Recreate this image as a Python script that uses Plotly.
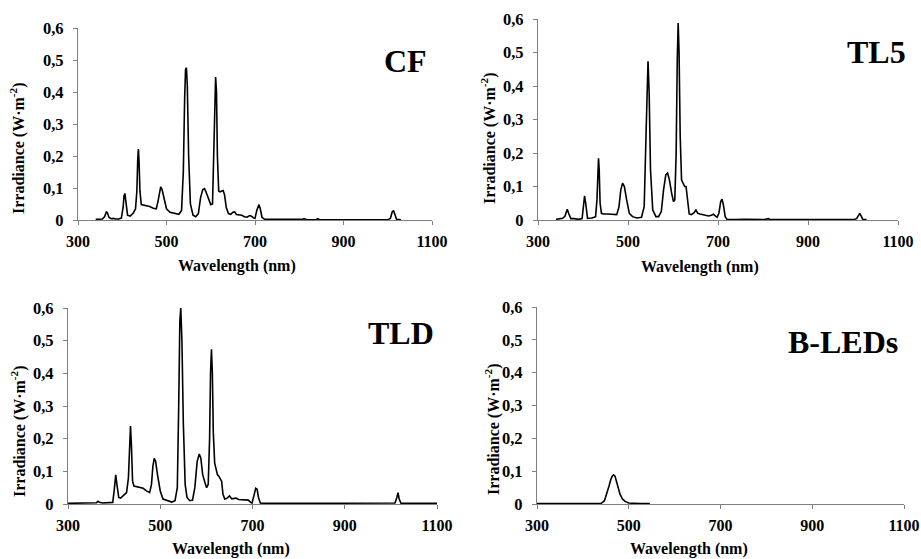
import plotly.graph_objects as go

# ---------------- data ----------------
cf_wl = [340, 355, 360, 364, 366, 370, 375, 380, 385, 392, 398, 402, 404, 406, 408, 412, 418, 425, 430, 433,
         435, 436.5, 438, 440, 443, 447, 455, 462, 470, 477, 481, 484, 487, 490, 494, 500, 508, 518, 528, 534,
         538, 541, 543, 545, 547, 550, 554, 560, 566, 572, 577, 582, 586, 590, 595, 600, 604, 607, 609, 611,
         613, 615, 618, 621, 624, 628, 631, 635, 640, 645, 650, 654, 658, 664, 670, 676, 682, 688, 692, 697,
         700, 704, 707, 709, 712, 716, 722, 740, 760, 800, 808, 811, 814, 820, 838, 842, 846, 850, 900, 910,
         915, 1000, 1006, 1010, 1013, 1016, 1020, 1030]
cf_irr = [0.002, 0.003, 0.010, 0.025, 0.024, 0.008, 0.004, 0.005, 0.003, 0.003, 0.006, 0.040, 0.075, 0.083, 0.060, 0.015, 0.012, 0.022, 0.035, 0.090,
          0.190, 0.222, 0.180, 0.090, 0.048, 0.047, 0.046, 0.042, 0.037, 0.035, 0.060, 0.090, 0.104, 0.095, 0.070, 0.035, 0.024, 0.022, 0.018, 0.030,
          0.150, 0.380, 0.470, 0.476, 0.420, 0.200, 0.050, 0.015, 0.010, 0.020, 0.070, 0.095, 0.098, 0.085, 0.065, 0.048, 0.050, 0.200, 0.380, 0.447,
          0.400, 0.200, 0.090, 0.088, 0.090, 0.092, 0.080, 0.040, 0.020, 0.018, 0.024, 0.025, 0.017, 0.016, 0.015, 0.010, 0.009, 0.014, 0.012, 0.006,
          0.005, 0.030, 0.046, 0.048, 0.035, 0.008, 0.002, 0.002, 0.001, 0.001, 0.002, 0.004, 0.002, 0.001, 0.001, 0.004, 0.001, 0.001, 0.001, 0.002,
          0.001, 0.001, 0.005, 0.025, 0.030, 0.020, 0.002, 0.001]

tl5_wl = [340, 355, 360, 363, 365, 368, 373, 380, 390, 398, 401, 403.5, 406, 410, 420, 428, 431, 433, 434.5, 436,
          438, 441, 445, 455, 465, 475, 480, 484, 488, 492, 497, 503, 510, 520, 530, 536, 540, 542.5, 544.5, 547,
          550, 555, 562, 568, 574, 579, 584, 588, 592, 597, 601, 604, 607, 609.5, 611.5, 613.5, 616, 619, 622, 626,
          629, 632, 636, 641, 647, 651, 655, 660, 668, 679, 685, 690, 694, 698, 702, 706, 709, 712, 716, 720,
          740, 760, 800, 808, 812, 816, 830, 1000, 1008, 1012, 1015, 1018, 1022, 1030]
tl5_irr = [0.002, 0.005, 0.012, 0.028, 0.032, 0.020, 0.004, 0.004, 0.002, 0.004, 0.040, 0.072, 0.050, 0.005, 0.006, 0.010, 0.060, 0.150, 0.184, 0.150,
           0.050, 0.020, 0.018, 0.018, 0.016, 0.016, 0.040, 0.090, 0.110, 0.100, 0.060, 0.020, 0.010, 0.006, 0.008, 0.040, 0.250, 0.440, 0.474, 0.380,
           0.150, 0.030, 0.010, 0.010, 0.025, 0.090, 0.135, 0.140, 0.120, 0.080, 0.055, 0.060, 0.200, 0.480, 0.588, 0.500, 0.250, 0.120, 0.110, 0.100,
           0.100, 0.060, 0.018, 0.016, 0.022, 0.030, 0.020, 0.018, 0.016, 0.012, 0.014, 0.017, 0.012, 0.008, 0.020, 0.055, 0.062, 0.045, 0.010, 0.002,
           0.001, 0.002, 0.001, 0.003, 0.004, 0.001, 0.001, 0.001, 0.004, 0.015, 0.020, 0.012, 0.001, 0.001]

tld_wl = [300, 350, 362, 365, 368, 375, 390, 397, 400, 403.5, 406, 410, 414, 420, 427, 431, 433.5, 435.5, 437.5, 440,
          443, 450, 463, 470, 477, 481, 484, 487, 490, 494, 500, 506, 515, 525, 532, 537, 540, 542.5, 544.5, 547,
          550, 554, 558, 564, 570, 575, 580, 584.5, 588, 592, 597, 600.5, 604, 607, 609, 611, 613, 615, 618, 621,
          624, 627, 633, 636, 640, 645, 650, 655, 659, 664, 670, 680, 691, 696, 699, 703, 707, 710, 713, 717,
          725, 780, 800, 808, 812, 820, 900, 1000, 1009, 1013, 1015.5, 1018, 1022, 1030, 1100]
tld_irr = [0.002, 0.002, 0.004, 0.008, 0.005, 0.003, 0.003, 0.005, 0.040, 0.089, 0.060, 0.020, 0.018, 0.025, 0.035, 0.080, 0.200, 0.239, 0.180, 0.070,
           0.055, 0.052, 0.048, 0.040, 0.035, 0.060, 0.115, 0.140, 0.130, 0.090, 0.040, 0.015, 0.010, 0.006, 0.010, 0.050, 0.300, 0.560, 0.600, 0.500,
           0.250, 0.060, 0.020, 0.010, 0.012, 0.050, 0.130, 0.153, 0.140, 0.090, 0.065, 0.050, 0.060, 0.200, 0.400, 0.474, 0.400, 0.220, 0.125, 0.110,
           0.090, 0.085, 0.070, 0.030, 0.015, 0.018, 0.025, 0.016, 0.016, 0.018, 0.014, 0.012, 0.012, 0.005, 0.003, 0.025, 0.048, 0.045, 0.020, 0.003,
           0.002, 0.002, 0.002, 0.003, 0.004, 0.002, 0.002, 0.002, 0.003, 0.020, 0.035, 0.015, 0.002, 0.002, 0.002]

bled_wl = [300, 365, 420, 440, 447, 452, 457, 461, 464, 467, 470, 473, 477, 481, 486, 492, 500, 510, 525, 546]
bled_irr = [0.001, 0.001, 0.001, 0.002, 0.010, 0.030, 0.055, 0.075, 0.085, 0.089, 0.085, 0.070, 0.048, 0.030, 0.016, 0.008, 0.003, 0.002, 0.001, 0.001]

panel_names = ["CF", "TL5", "TLD", "B-LEDs"]
x_tick_vals = [300, 500, 700, 900, 1100]
x_tick_text = ["300", "500", "700", "900", "1100"]
y_tick_vals = [0, 0.1, 0.2, 0.3, 0.4, 0.5, 0.6]
y_tick_text = ["0", "0,1", "0,2", "0,3", "0,4", "0,5", "0,6"]
x_title = "Wavelength (nm)"
y_title = "Irradiance (W·m<sup>-2</sup>)"

series = [(cf_wl, cf_irr), (tl5_wl, tl5_irr), (tld_wl, tld_irr), (bled_wl, bled_irr)]
for w, v in series:
    assert len(w) == len(v), (len(w), len(v))

# ---------------- layout geometry (pixels) ----------------
W, H = 921, 559
# (left, right, bottom(y=0), top(y=0.6)) in pixels
boxes = [(78, 432, 220, 28), (538, 898, 220, 19), (68, 437, 504, 308), (537, 904, 504, 307)]
ytitle_pos = [(18, 148), (488, 138), (18, 431), (492, 429)]
xtitle_pos = [(237, 266), (700, 267), (231, 549), (689, 549)]
name_pos = [(429, 61), (908, 52), (436, 333), (900, 342)]

FONT = "Liberation Serif, Times New Roman, serif"
fig = go.Figure()
annotations = []
layout_axes = {}
for i, ((w, v), (l, r, b, t)) in enumerate(zip(series, boxes)):
    n = "" if i == 0 else str(i + 1)
    fig.add_trace(go.Scatter(x=w, y=v, mode="lines", line=dict(color="black", width=1.6),
                             xaxis="x" + n, yaxis="y" + n, showlegend=False, cliponaxis=False))
    layout_axes["xaxis" + n] = dict(domain=[l / W, r / W], anchor="y" + n, range=[300, 1100], automargin=False,
                                    tickvals=x_tick_vals, ticktext=x_tick_text, showgrid=False, zeroline=False,
                                    showline=True, linecolor="#808080", linewidth=1.2, ticks="outside",
                                    ticklen=4, tickcolor="#808080", ticklabelstandoff=3,
                                    tickfont=dict(family=FONT, size=16, color="black", weight="bold"))
    layout_axes["yaxis" + n] = dict(domain=[1 - b / H, 1 - t / H], anchor="x" + n, range=[0, 0.6], automargin=False,
                                    tickvals=y_tick_vals, ticktext=y_tick_text, showgrid=False, zeroline=False,
                                    showline=True, linecolor="#808080", linewidth=1.2, ticks="outside",
                                    ticklen=4, tickcolor="#808080", ticklabelstandoff=6,
                                    tickfont=dict(family=FONT, size=16.5, color="black", weight="bold"))
    yx, yy = ytitle_pos[i]
    annotations.append(dict(text="<b>" + y_title + "</b>", x=yx / W, y=1 - yy / H, xref="paper", yref="paper",
                            textangle=-90, showarrow=False, xanchor="center", yanchor="middle",
                            font=dict(family=FONT, size=16, color="black")))
    xx, xy = xtitle_pos[i]
    annotations.append(dict(text="<b>" + x_title + "</b>", x=xx / W, y=1 - xy / H, xref="paper", yref="paper",
                            showarrow=False, xanchor="center", yanchor="middle",
                            font=dict(family=FONT, size=16, color="black")))
    nx, ny = name_pos[i]
    annotations.append(dict(text="<b>" + panel_names[i] + "</b>", x=nx / W, y=1 - ny / H, xref="paper", yref="paper",
                            showarrow=False, xanchor="right", yanchor="middle",
                            font=dict(family=FONT, size=32, color="black")))

fig.update_layout(width=W, height=H, margin=dict(l=0, r=0, t=0, b=0, autoexpand=False),
                  paper_bgcolor="white", plot_bgcolor="white",
                  annotations=annotations, **layout_axes)
fig.write_html("out.html", config={"displayModeBar": False},
               post_script="document.body.style.margin='0';document.body.style.overflow='hidden';")
